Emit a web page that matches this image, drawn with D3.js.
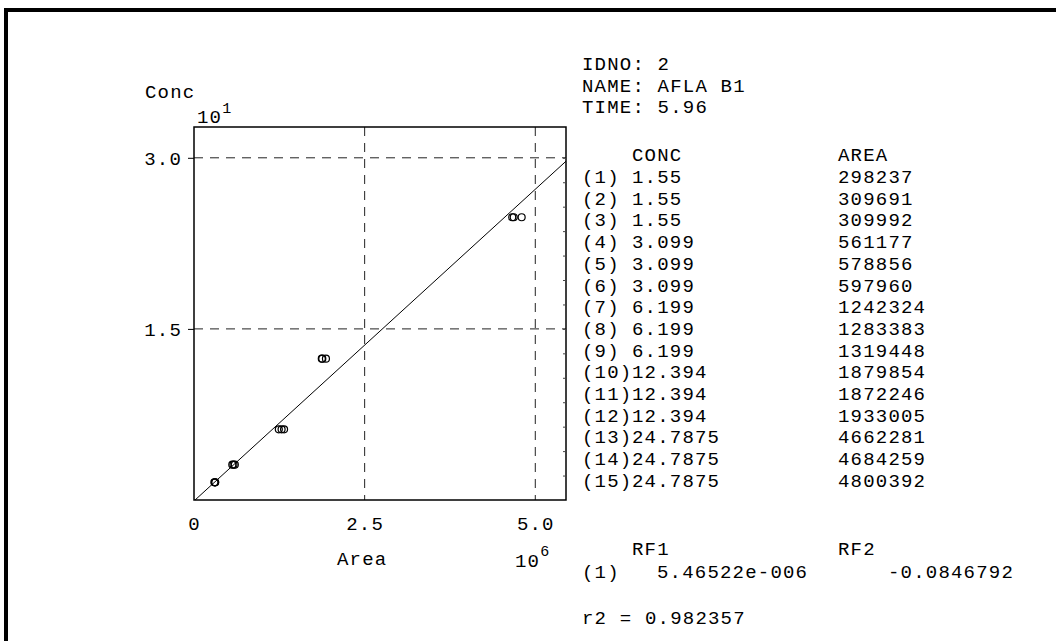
<!DOCTYPE html>
<html>
  <head>
    <script src="https://d3js.org/d3.v7.min.js"></script>
    <style>
      body { margin: 0; background: #fff; }
      svg text { font-family: "Liberation Mono", "DejaVu Sans Mono", monospace; font-size: 19px; letter-spacing: 1.2px; fill: #000; }
      .sup { font-size: 15px; }
    </style>
  </head>
  <body>
    <script>
      // calibration table
      var ids = ["(1)", "(2)", "(3)", "(4)", "(5)", "(6)", "(7)", "(8)", "(9)", "(10)", "(11)", "(12)", "(13)", "(14)", "(15)"];
      var concLabels = ["1.55", "1.55", "1.55", "3.099", "3.099", "3.099", "6.199", "6.199", "6.199",
                        "12.394", "12.394", "12.394", "24.7875", "24.7875", "24.7875"];
      var conc = concLabels.map(Number);
      var area = [298237, 309691, 309992, 561177, 578856, 597960, 1242324, 1283383, 1319448,
                  1879854, 1872246, 1933005, 4662281, 4684259, 4800392];
      var xTicks = [0, 2.5, 5.0];
      var yTicks = [1.5, 3.0];
      var rf1 = 5.46522e-6, rf2 = -0.0846792;
      var rf1Label = "5.46522e-006", rf2Label = "-0.0846792";
      var r2Label = "0.982357";
      var header = ["IDNO: 2", "NAME: AFLA B1", "TIME: 5.96"];

      var W = 1056, H = 641;
      var svg = d3.select("body").append("svg")
          .attr("width", W)
          .attr("height", H);

      // outer frame
      svg.append("path")
          .attr("d", "M6,700 V10 H1056")
          .attr("fill", "none")
          .attr("stroke", "#000")
          .attr("stroke-width", 4);

      var pLeft = 194, pRight = 566, pTop = 127, pBottom = 500;

      // area in units of 10^6, conc in units of 10^1
      var x = d3.scaleLinear().domain([0, 5.45]).range([pLeft, pRight]);
      var y = d3.scaleLinear().domain([0, 3.27]).range([pBottom, pTop]);

      var g = svg.append("g");

      // dashed grid
      g.selectAll(".hgrid")
          .data(yTicks)
        .enter().append("line")
          .attr("x1", pLeft).attr("x2", pRight)
          .attr("y1", function(d) { return y(d); })
          .attr("y2", function(d) { return y(d); })
          .attr("stroke", "#222")
          .attr("stroke-dasharray", "9,7");
      g.selectAll(".vgrid")
          .data([2.5, 5.0])
        .enter().append("line")
          .attr("y1", pTop).attr("y2", pBottom)
          .attr("x1", function(d) { return x(d); })
          .attr("x2", function(d) { return x(d); })
          .attr("stroke", "#222")
          .attr("stroke-dasharray", "9,7");

      // box
      g.append("rect")
          .attr("x", pLeft).attr("y", pTop)
          .attr("width", pRight - pLeft).attr("height", pBottom - pTop)
          .attr("fill", "none")
          .attr("stroke", "#000")
          .attr("stroke-width", 1.5);

      // y axis
      var yAxis = g.append("g")
          .attr("transform", "translate(" + pLeft + ",0)")
          .call(d3.axisLeft(y).tickValues(yTicks).tickFormat(d3.format(".1f")).tickSize(6).tickPadding(6));
      yAxis.select(".domain").remove();
      yAxis.selectAll("text").attr("font-family", null).attr("font-size", null).attr("fill", null).attr("dy", "0.36em");

      // minor ticks on right side
      var rAxis = g.append("g")
          .attr("transform", "translate(" + pRight + ",0)")
          .call(d3.axisLeft(y).tickValues(d3.range(1, 15).map(function(k) { return k * 1.5 / 7; })).tickSize(3).tickFormat(""));
      rAxis.select(".domain").remove();
      rAxis.selectAll("line").attr("stroke", "#444");

      // x axis
      var xAxis = g.append("g")
          .attr("transform", "translate(0," + pBottom + ")")
          .call(d3.axisBottom(x).tickValues(xTicks)
            .tickFormat(function(d) { return d === 0 ? "0" : d3.format(".1f")(d); })
            .tickSize(0).tickPadding(17));
      xAxis.select(".domain").remove();
      xAxis.selectAll("text").attr("font-family", null).attr("font-size", null).attr("fill", null);

      // regression line
      var a0 = -rf2 / rf1;
      var a1 = x.domain()[1] * 1e6;
      g.append("line")
          .attr("x1", x(a0 / 1e6)).attr("y1", y((rf1 * a0 + rf2) / 10))
          .attr("x2", x(a1 / 1e6)).attr("y2", y((rf1 * a1 + rf2) / 10))
          .attr("stroke", "#000")
          .attr("stroke-width", 1);

      // points
      g.selectAll(".pt")
          .data(area)
        .enter().append("circle")
          .attr("cx", function(d) { return x(d / 1e6); })
          .attr("cy", function(d, i) { return y(conc[i] / 10); })
          .attr("r", 3.5)
          .attr("fill", "none")
          .attr("stroke", "#000")
          .attr("stroke-width", 1.2);

      // axis titles
      g.append("text").attr("x", 145).attr("y", 98).text("Conc");
      var e1 = g.append("text").attr("x", 197).attr("y", 123);
      e1.append("tspan").text("10");
      e1.append("tspan").attr("class", "sup").attr("dy", -10).text("1");
      g.append("text").attr("x", 337).attr("y", 565).text("Area");
      var e6 = g.append("text").attr("x", 515).attr("y", 567);
      e6.append("tspan").text("10");
      e6.append("tspan").attr("class", "sup").attr("dy", -11).text("6");

      // info text
      var info = svg.append("g");
      info.selectAll(".hdr")
          .data(header)
        .enter().append("text")
          .attr("x", 582)
          .attr("y", function(d, i) { return 70 + i * 21.7; })
          .text(function(d) { return d; });

      info.append("text").attr("x", 632).attr("y", 161).text("CONC");
      info.append("text").attr("x", 838).attr("y", 161).text("AREA");

      var rowY = function(i) { return 183 + i * 21.7; };
      info.selectAll(".id")
          .data(ids)
        .enter().append("text")
          .attr("x", 582)
          .attr("y", function(d, i) { return rowY(i); })
          .text(function(d) { return d; });
      info.selectAll(".cv")
          .data(concLabels)
        .enter().append("text")
          .attr("x", 632)
          .attr("y", function(d, i) { return rowY(i); })
          .text(function(d) { return d; });
      info.selectAll(".av")
          .data(area)
        .enter().append("text")
          .attr("x", 838)
          .attr("y", function(d, i) { return rowY(i); })
          .text(function(d) { return d; });

      info.append("text").attr("x", 632).attr("y", 555).text("RF1");
      info.append("text").attr("x", 838).attr("y", 555).text("RF2");
      info.append("text").attr("x", 582).attr("y", 578).text("(1)");
      info.append("text").attr("x", 657).attr("y", 578).text(rf1Label);
      info.append("text").attr("x", 888).attr("y", 578).text(rf2Label);
      info.append("text").attr("x", 582).attr("y", 624).text("r2 = " + r2Label);
    </script>
  </body>
</html>
